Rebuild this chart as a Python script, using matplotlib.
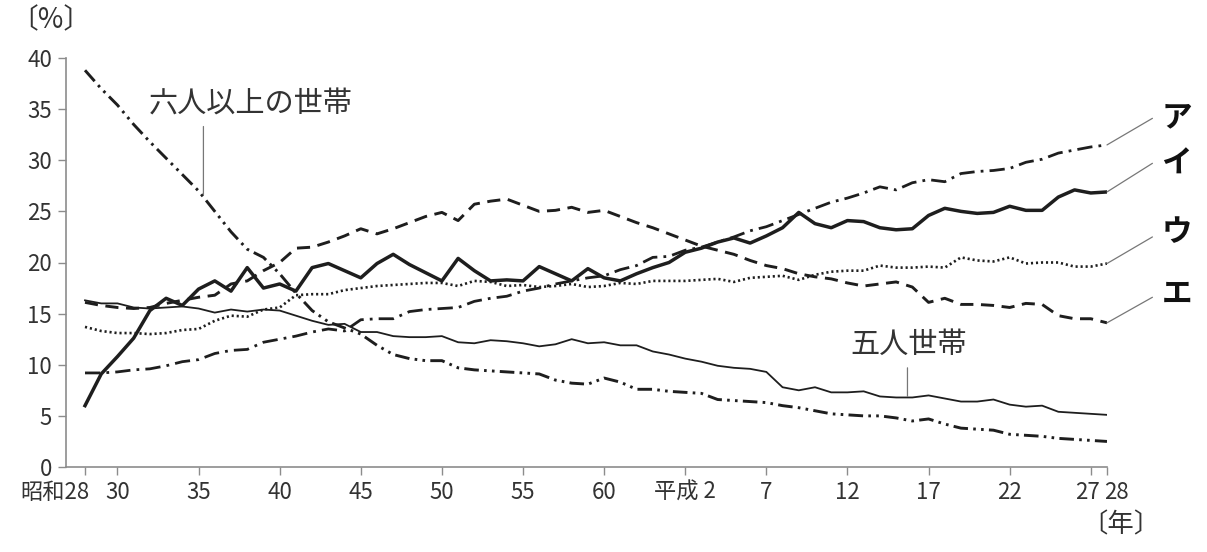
import numpy as np
import matplotlib
matplotlib.use('Agg')
import matplotlib.pyplot as plt
import matplotlib.transforms as mtransforms

plt.rcParams['font.family'] = ['Noto Sans CJK JP', 'DejaVu Sans']

# years: 昭和28 (1953) .. 平成28 (2016)
years = np.arange(1953, 2017)

a_vals = [9.2, 9.2, 9.3, 9.5, 9.6, 9.9, 10.3, 10.5, 11.1, 11.4,
          11.5, 12.2, 12.5, 12.8, 13.2, 13.5, 13.3, 14.4, 14.5, 14.5,
          15.2, 15.4, 15.5, 15.6, 16.2, 16.5, 16.7, 17.2, 17.5, 17.9,
          18.2, 18.5, 18.7, 19.3, 19.7, 20.5, 20.6, 21.2, 21.5, 22.0,
          22.5, 23.1, 23.5, 24.1, 24.7, 25.3, 25.9, 26.3, 26.8, 27.4,
          27.1, 27.8, 28.1, 27.9, 28.7, 28.9, 29.0, 29.2, 29.8, 30.1,
          30.7, 31.0, 31.3, 31.5]
i_vals = [6.0, 9.1, 10.8, 12.6, 15.3, 16.5, 15.8, 17.4, 18.2, 17.2,
          19.5, 17.5, 17.9, 17.2, 19.5, 19.9, 19.2, 18.5, 19.9, 20.8,
          19.8, 19.0, 18.2, 20.4, 19.2, 18.2, 18.3, 18.2, 19.6, 18.9,
          18.2, 19.4, 18.5, 18.2, 18.9, 19.5, 20.0, 21.0, 21.4, 22.0,
          22.4, 21.9, 22.6, 23.4, 24.9, 23.8, 23.4, 24.1, 24.0, 23.4,
          23.2, 23.3, 24.6, 25.3, 25.0, 24.8, 24.9, 25.5, 25.1, 25.1,
          26.4, 27.1, 26.8, 26.9]
u_vals = [13.7, 13.3, 13.1, 13.1, 13.0, 13.1, 13.4, 13.5, 14.3, 14.8,
          14.7, 15.4, 15.6, 16.8, 16.9, 16.9, 17.3, 17.5, 17.7, 17.8,
          17.9, 18.0, 18.0, 17.7, 18.2, 18.1, 17.7, 17.8, 17.6, 17.7,
          17.9, 17.6, 17.7, 18.0, 17.9, 18.2, 18.2, 18.2, 18.3, 18.4,
          18.1, 18.5, 18.6, 18.7, 18.3, 18.8, 19.1, 19.2, 19.2, 19.7,
          19.5, 19.5, 19.6, 19.5, 20.5, 20.2, 20.1, 20.5, 19.9, 20.0,
          20.0, 19.6, 19.6, 19.9]
e_vals = [16.1, 15.8, 15.6, 15.5, 15.6, 16.0, 16.3, 16.6, 16.8, 17.9,
          18.2, 19.2, 20.0, 21.4, 21.5, 22.0, 22.6, 23.3, 22.8, 23.3,
          23.9, 24.5, 24.9, 24.1, 25.7, 26.0, 26.2, 25.6, 25.0, 25.1,
          25.4, 24.9, 25.1, 24.5, 23.9, 23.4, 22.8, 22.2, 21.6, 21.2,
          20.8, 20.2, 19.7, 19.4, 18.9, 18.6, 18.4, 18.0, 17.7, 17.9,
          18.1, 17.6, 16.1, 16.5, 15.9, 15.9, 15.8, 15.6, 16.0, 15.9,
          14.8, 14.5, 14.5, 14.1]
five_vals = [16.3, 16.0, 16.0, 15.6, 15.5, 15.6, 15.7, 15.5, 15.1, 15.4,
             15.2, 15.4, 15.3, 14.8, 14.3, 13.9, 14.0, 13.2, 13.2, 12.8,
             12.7, 12.7, 12.8, 12.2, 12.1, 12.4, 12.3, 12.1, 11.8, 12.0,
             12.5, 12.1, 12.2, 11.9, 11.9, 11.3, 11.0, 10.6, 10.3, 9.9,
             9.7, 9.6, 9.3, 7.8, 7.5, 7.8, 7.3, 7.3, 7.4, 6.9,
             6.8, 6.8, 7.0, 6.7, 6.4, 6.4, 6.6, 6.1, 5.9, 6.0,
             5.4, 5.3, 5.2, 5.1]
six_vals = [38.8, 37.0, 35.4, 33.5, 31.8, 30.2, 28.6, 27.0, 25.0, 23.0,
            21.3, 20.5, 18.9, 17.0, 15.3, 14.2, 13.6, 13.0, 11.9, 11.0,
            10.6, 10.4, 10.4, 9.7, 9.5, 9.4, 9.3, 9.2, 9.1, 8.5,
            8.2, 8.1, 8.7, 8.3, 7.6, 7.6, 7.4, 7.3, 7.2, 6.6,
            6.5, 6.4, 6.3, 6.0, 5.8, 5.5, 5.2, 5.1, 5.0, 5.0,
            4.8, 4.5, 4.7, 4.2, 3.8, 3.7, 3.6, 3.2, 3.1, 3.0,
            2.8, 2.7, 2.6, 2.5]

tick_years = [1953, 1955, 1960, 1965, 1970, 1975, 1980, 1985, 1990,
              1995, 2000, 2005, 2010, 2015, 2016]
tick_labels = ['昭和28', '30', '35', '40', '45', '50', '55', '60', '平成 2',
               '7', '12', '17', '22', '27', '28']

ink = '#1e1e1e'
grey = '#8c8c8c'

fig = plt.figure(figsize=(12.07, 5.52), dpi=100)
ax = fig.add_axes([66 / 1207, 1 - 467 / 552, (1107 - 66) / 1207, (467 - 58) / 552])

ax.plot(years, six_vals, color=ink, lw=2.1, dashes=[5, 1.8, 0.9, 1.8, 0.9, 1.8])
ax.plot(years, five_vals, color=ink, lw=1.3)
ax.plot(years, e_vals, color=ink, lw=2.1, dashes=[4.5, 2.6])
ax.plot(years, u_vals, color=ink, lw=1.9, dashes=[0.8, 1.1])
ax.plot(years, i_vals, color=ink, lw=2.5)
ax.plot(years, a_vals, color=ink, lw=2.0, dashes=[5.5, 2.2, 1.0, 2.2])

ax.set_xlim(1953 - 19 / 16.22, 2016)
ax.set_ylim(0, 40)
ax.set_yticks(range(0, 41, 5))
ax.set_xticks(tick_years)
ax.set_xticklabels(tick_labels)

for s in ['top', 'right']:
    ax.spines[s].set_visible(False)
for s in ['left', 'bottom']:
    ax.spines[s].set_color(grey)
    ax.spines[s].set_linewidth(1.2)

ax.tick_params(axis='both', colors=grey, labelcolor='#333333', labelsize=16,
               length=6, width=1.0)
ax.tick_params(axis='x', pad=4)
ax.tick_params(axis='y', pad=4)


def shift_label(lab, ha, dx_px):
    lab.set_horizontalalignment(ha)
    lab.set_transform(lab.get_transform() +
                      mtransforms.ScaledTranslation(dx_px / 100, 0, fig.dpi_scale_trans))


xlabs = ax.get_xticklabels()
shift_label(xlabs[0], 'right', 4)     # 昭和28 sits left of its tick
shift_label(xlabs[-2], 'right', 9)    # 27
shift_label(xlabs[-1], 'left', -3)    # 28

# axis unit labels
fig.text(10 / 1207, 1 - 20 / 552, '〔%〕', fontsize=20, color='#333333', ha='left', va='center')
fig.text(1121 / 1207, 1 - 525 / 552, '〔年〕', fontsize=19, color='#333333', ha='center', va='center')

# callouts for six / five person households
ax.annotate('', xy=(1960.3, np.interp(1960.3, years, six_vals) + 0.2), xytext=(1960.3, 33.3),
            arrowprops=dict(arrowstyle='-', color='#777777', lw=0.9, shrinkA=0, shrinkB=0))
ax.text(1963.2, 35.4, '六人以上の世帯', fontsize=21, color='#333333', ha='center', va='center')

ax.annotate('', xy=(2003.7, np.interp(2003.7, years, five_vals) + 0.1), xytext=(2003.7, 9.7),
            arrowprops=dict(arrowstyle='-', color='#777777', lw=0.9, shrinkA=0, shrinkB=0))
ax.text(2003.8, 11.9, '五人世帯', fontsize=21, color='#333333', ha='center', va='center')

# series labels ア..エ on the right
names = ['ア', 'イ', 'ウ', 'エ']
ends = [a_vals[-1], i_vals[-1], u_vals[-1], e_vals[-1]]
label_y = [34.2, 29.7, 23.0, 16.9]
line_y = [34.1, 29.7, 22.5, 16.6]
for name, yend, ly, lly in zip(names, ends, label_y, line_y):
    ax.annotate('', xy=(2016, yend), xytext=(2018.8, lly), annotation_clip=False,
                arrowprops=dict(arrowstyle='-', color='#777777', lw=0.9, shrinkA=0, shrinkB=0))
    ax.text(2020.3, ly, name, fontsize=22, fontweight='bold', color='#111111',
            ha='center', va='center', clip_on=False)

fig.savefig('out.png', dpi=100, facecolor='white')
